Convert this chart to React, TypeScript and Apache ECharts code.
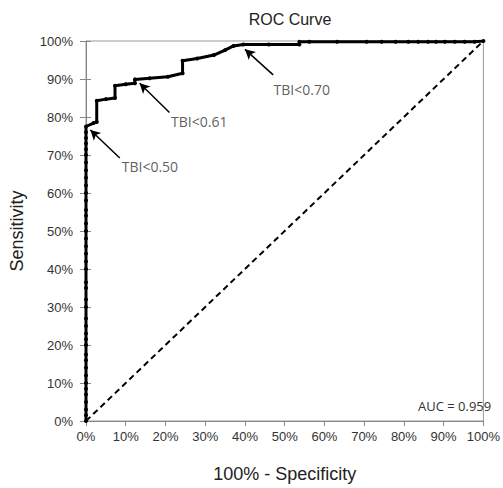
import React, { useEffect, useRef } from "react";
import * as echarts from "echarts";

const xTicks = [0, 10, 20, 30, 40, 50, 60, 70, 80, 90, 100];

// ROC curve points: [100% - specificity, sensitivity]
const rocVerticalSens = [0, 1.5, 3, 5, 7, 8.5, 10, 12, 14, 16, 17.5, 20, 21.5, 23, 25, 27, 30, 32, 35, 36.5, 40, 42, 44, 46, 48, 50, 52, 54, 55.5, 58, 60, 62, 64, 66, 68, 70, 71.5, 73, 74.5, 76, 77.5];
const rocUpper: [number, number][] = [
  [1.9, 78.4], [2.7, 78.7], [2.7, 84.3], [5.0, 84.7], [7.3, 85.0], [7.3, 88.2], [10.0, 88.6], [12.3, 88.9], [12.3, 89.9],
  [16.0, 90.2], [20.6, 90.6], [24.3, 91.5], [24.3, 94.8], [28.0, 95.4], [32.2, 96.3], [35.0, 97.6], [37.1, 98.7],
  [39.6, 99.1], [46.0, 99.1], [53.7, 99.1], [53.7, 99.8], [56.2, 99.8], [63.2, 99.8], [70.6, 99.8], [74.4, 99.8],
  [77.9, 99.8], [81.1, 99.8], [83.6, 99.8], [86.1, 99.8], [88.1, 99.8], [90.3, 99.8], [92.8, 99.8], [95.3, 99.8],
  [97.8, 99.8], [100, 100],
];
const rocPoints: [number, number][] = [...rocVerticalSens.map((s) => [0, s] as [number, number]), ...rocUpper];

const diagonal: [number, number][] = [[0, 0], [100, 100]];

// Annotations: arrow tail -> arrow head, and text anchor
const annotationLabels = ["TBI<0.50", "TBI<0.61", "TBI<0.70"];
const arrowTails: [number, number][] = [[8.5, 69.2], [21.0, 81.2], [47.1, 91.1]];
const arrowHeads: [number, number][] = [[1.1, 76.6], [13.5, 88.9], [40.0, 97.8]];
const labelAnchors: [number, number][] = [[9.0, 67.0], [21.4, 78.8], [47.2, 87.3]];

const aucText = "AUC = 0.959";

export default function App() {
  const ref = useRef<HTMLDivElement>(null);
  useEffect(() => {
    if (!ref.current) return;
    const chart = echarts.init(ref.current, null, { renderer: "svg" });
    const font = "'Liberation Sans', Arial, sans-serif";
    const annFont = "'Open Sans', 'Liberation Sans', sans-serif";
    chart.setOption({
      animation: false,
      backgroundColor: "#fff",
      title: {
        text: "ROC Curve",
        left: 285,
        textAlign: "center",
        top: 6,
        textStyle: { fontFamily: font, fontSize: 16, fontWeight: "normal", color: "#222" },
      },
      grid: { left: 84, right: 17, top: 41, bottom: 66, show: true, borderColor: "#999", borderWidth: 1 },
      xAxis: {
        type: "value",
        min: 0,
        max: 100,
        interval: 10,
        name: "100% - Specificity",
        nameLocation: "middle",
        nameGap: 44,
        nameTextStyle: { fontFamily: font, fontSize: 18, color: "#222" },
        axisLine: { show: true, lineStyle: { color: "#888", width: 1 } },
        axisTick: { show: true, inside: false, length: 5, lineStyle: { color: "#888" } },
        axisLabel: { formatter: "{value}%", fontFamily: font, fontSize: 13, color: "#333", margin: 9 },
        splitLine: { show: false },
      },
      yAxis: [
        {
          type: "value",
          min: 0,
          max: 100,
          interval: 10,
          name: "Sensitivity",
          nameLocation: "middle",
          nameGap: 60,
          nameTextStyle: { fontFamily: font, fontSize: 18, color: "#222" },
          axisLine: { show: true, lineStyle: { color: "#888", width: 1 } },
          axisTick: { show: true, inside: false, length: 6, lineStyle: { color: "#888" } },
          axisLabel: { formatter: "{value}%", fontFamily: font, fontSize: 13, color: "#333", margin: 13 },
          splitLine: { show: false },
        },
        {
          type: "value",
          position: "left",
          min: 0,
          max: 100,
          interval: 10,
          axisLine: { show: false },
          axisTick: { show: true, inside: true, length: 5, lineStyle: { color: "#888" } },
          axisLabel: { show: false },
          splitLine: { show: false },
        },
      ],
      graphic: [
        {
          type: "text",
          left: 418,
          top: 399,
          style: { text: aucText, fontFamily: annFont, fontSize: 13, fill: "#333" },
        },
      ],
      series: [
        {
          type: "line",
          data: diagonal,
          symbol: "none",
          lineStyle: { color: "#000", width: 2, type: [6, 4] },
          z: 2,
        },
        {
          type: "line",
          data: rocPoints,
          symbol: "circle",
          symbolSize: 4,
          itemStyle: { color: "#000" },
          lineStyle: { color: "#000", width: 3 },
          z: 3,
          markLine: {
            silent: true,
            symbol: ["none", "arrow"],
            symbolSize: [8, 10],
            label: { show: false },
            lineStyle: { color: "#000", width: 1.5, type: "solid" },
            data: arrowTails.map((t, i) => [{ coord: t }, { coord: arrowHeads[i] }]),
          },
        },
        {
          type: "scatter",
          data: labelAnchors.map((p, i) => ({ value: p, name: annotationLabels[i] })),
          symbolSize: 0,
          label: {
            show: true,
            position: "right",
            distance: 0,
            formatter: (p: any) => p.name,
            fontFamily: annFont,
            fontSize: 14,
            color: "#333",
          },
          z: 4,
        },
      ],
    });
    return () => chart.dispose();
  }, []);
  return <div ref={ref} style={{ width: 503, height: 488, position: "absolute", left: 0, top: 0 }} />;
}
